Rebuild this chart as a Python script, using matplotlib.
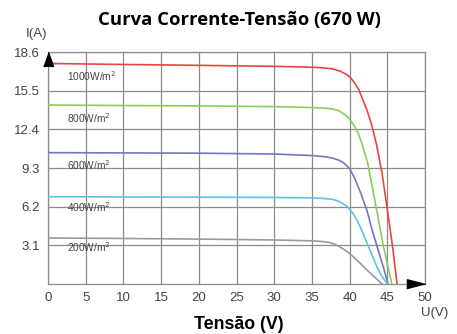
import matplotlib.pyplot as plt

# I-V curves (V in volts, I in amps)
v_1000 = [0, 10, 20, 30, 35, 36.5, 37.8, 38.8, 39.7, 40.2, 40.7, 41.2, 41.6, 42.3, 43.0, 43.6, 44.3, 45.0, 45.7, 46.3]
i_1000 = [17.68, 17.6, 17.53, 17.45, 17.38, 17.33, 17.24, 17.05, 16.76, 16.48, 16.1, 15.6, 15.0, 13.95, 12.6, 11.1, 8.9, 6.0, 3.0, 0]

v_800 = [0, 10, 20, 30, 35, 36.8, 37.8, 38.5, 39.1, 39.7, 40.2, 40.7, 41.2, 41.6, 42.4, 43.6, 44.4, 45.0, 45.6]
i_800 = [14.35, 14.31, 14.28, 14.22, 14.15, 14.1, 14.03, 13.9, 13.7, 13.42, 13.05, 12.6, 12.0, 11.3, 9.7, 5.9, 3.3, 1.6, 0]

v_600 = [0, 10, 20, 30, 35, 36.8, 37.8, 38.5, 39.2, 40.0, 40.7, 41.5, 42.3, 43.0, 43.8, 44.5, 45.1]
i_600 = [10.53, 10.51, 10.49, 10.42, 10.3, 10.2, 10.08, 9.95, 9.72, 9.25, 8.45, 7.25, 5.9, 4.3, 2.7, 1.3, 0]

v_400 = [0, 10, 20, 30, 35, 36.8, 37.8, 38.5, 39.1, 39.7, 40.4, 41.0, 41.7, 42.3, 43.0, 43.6, 44.3, 45.0]
i_400 = [7.0, 6.98, 6.96, 6.94, 6.9, 6.85, 6.78, 6.65, 6.45, 6.2, 5.7, 5.1, 4.2, 3.3, 2.3, 1.4, 0.6, 0]

v_200 = [0, 10, 20, 30, 35, 36.3, 37.3, 38.0, 38.7, 39.4, 40.0, 41.0, 42.0, 42.7, 43.6, 44.3]
i_200 = [3.69, 3.65, 3.6, 3.53, 3.46, 3.41, 3.33, 3.2, 2.98, 2.72, 2.45, 1.9, 1.3, 0.9, 0.4, 0]

curve_labels = ["1000W/m$^2$", "800W/m$^2$", "600W/m$^2$", "400W/m$^2$", "200W/m$^2$"]
curve_colors = ["#e5473f", "#8ccb5e", "#7478bb", "#5ec3e6", "#9a9a9a"]
label_y = [16.7, 13.3, 9.55, 6.2, 2.95]

x_ticks = [0, 5, 10, 15, 20, 25, 30, 35, 40, 45, 50]
y_ticks = [3.1, 6.2, 9.3, 12.4, 15.5, 18.6]

fig = plt.figure(figsize=(4.57, 3.34), dpi=100)
ax = fig.add_axes([48 / 457, 50 / 334, 377 / 457, 232 / 334])

curves = [(v_1000, i_1000), (v_800, i_800), (v_600, i_600), (v_400, i_400), (v_200, i_200)]
for (v, i), c in zip(curves, curve_colors):
    ax.plot(v, i, color=c, lw=1.2, zorder=3, solid_joinstyle="round")

for lab, y in zip(curve_labels, label_y):
    ax.text(2.5, y, lab, fontsize=7.3, color="#444444", family="Liberation Sans",
            va="center", ha="left", zorder=4)

ax.set_xlim(0, 50)
ax.set_ylim(0, 18.6)
ax.set_xticks(x_ticks)
ax.set_yticks(y_ticks)
ax.set_xticklabels([str(t) for t in x_ticks], fontsize=9.5, color="#444444", family="Liberation Sans")
ax.set_yticklabels([str(t) for t in y_ticks], fontsize=9.5, color="#444444", family="Liberation Sans")
ax.tick_params(length=0, pad=6)
ax.tick_params(axis="x", pad=6)
ax.grid(True, color="#8c8c8c", lw=0.9)
ax.set_axisbelow(True)
for s in ax.spines.values():
    s.set_color("#8c8c8c")
    s.set_linewidth(0.9)

# arrow heads on the axes
ax.plot(0, 18.6, marker=[(-0.36, -1), (0.36, -1), (0, 0)], ms=20, color="black",
        clip_on=False, zorder=5)
ax.plot(50, 0, marker=[(0, 0), (-1, 0.26), (-1, -0.26)], ms=26, color="black",
        clip_on=False, zorder=5)

ax.text(-0.03, 1.05, "I(A)", transform=ax.transAxes, fontsize=9.5, color="#444444",
        family="Liberation Sans", ha="center", va="bottom")
ax.text(0.99, -0.1, "U(V)", transform=ax.transAxes, fontsize=9.5, color="#444444",
        family="Liberation Sans", ha="left", va="top")

fig.text(0.524, 0.94, "Curva Corrente-Tensão (670 W)", fontsize=13.3, fontweight="bold",
         family="Open Sans", ha="center", va="center")
fig.text(0.522, 0.014, "Tensão (V)", fontsize=12.8, fontweight="bold",
         family="Liberation Sans", ha="center", va="baseline")

fig.savefig("out.png", dpi=100)
